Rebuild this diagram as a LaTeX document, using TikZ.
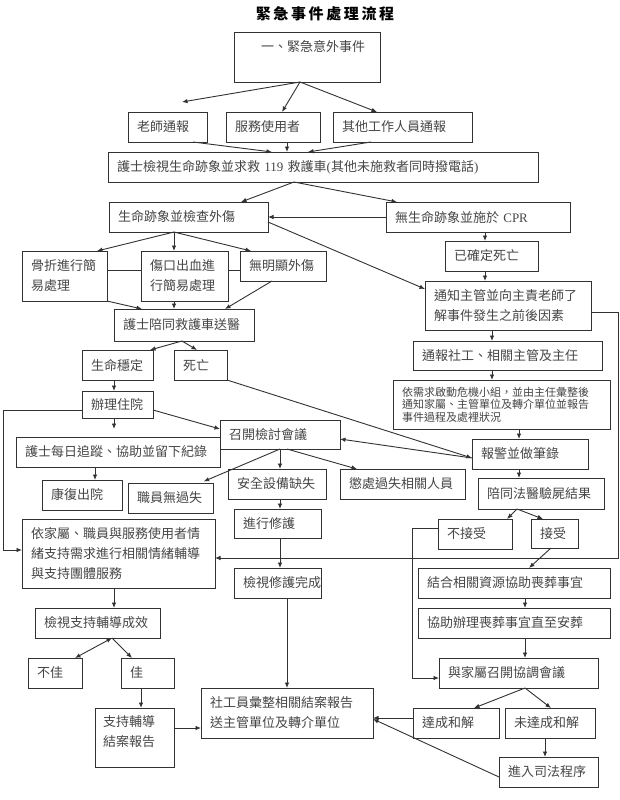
\documentclass[tikz,border=0pt]{standalone}
\usepackage{fontspec}
\usetikzlibrary{arrows.meta}
\newfontfamily\cjk{Noto Sans CJK TC}
\newfontfamily\lat{Liberation Serif}
\definecolor{linec}{RGB}{50,50,50}
\definecolor{textc}{RGB}{70,70,70}
% #1 extra options, #2 name, #3 x, #4 y, #5 width, #6 height, #7 text
\newcommand\mybox[7][]{%
  \pgfmathsetmacro\mytw{#5-18}%
  \node[bxs,text width=\mytw pt,minimum height=#6pt,#1] (#2) at (#3,#4) {#7};}
\begin{document}
\begin{tikzpicture}[x=1pt,y=-1pt,
  bxs/.style={draw=linec, line width=0.9pt, anchor=north west, inner xsep=9pt,
    inner ysep=0pt, outer sep=0pt, align=left, text=textc,
    font=\cjk\fontsize{13pt}{20pt}\selectfont},
  emptybox/.style={draw=linec, line width=0.9pt, anchor=north west, inner sep=0pt, outer sep=0pt},
  txt/.style={inner sep=0pt, text=textc, align=left, font=\cjk\fontsize{13pt}{20pt}\selectfont},
  ln/.style={draw=linec, line width=0.9pt},
  arr/.style={ln, -{Latex[length=5.5pt,width=4.5pt]}},
  arrr/.style={ln, {Latex[length=5.5pt,width=4.5pt]}-{Latex[length=5.5pt,width=4.5pt]}},
]
\fill[white] (0,0) rectangle (619,800);
\useasboundingbox (0,0) rectangle (619,800);

% title
\node[inner sep=0pt, text=black, font=\cjk\bfseries\fontsize{15pt}{15pt}\selectfont] (title) at (325,14)
  {緊\hspace{2.6pt}急\hspace{2.6pt}事\hspace{2.6pt}件\hspace{2.6pt}處\hspace{2.6pt}理\hspace{2.6pt}流\hspace{2.6pt}程};

% boxes
\node[emptybox, minimum width=146pt, minimum height=50pt] (ev) at (234,32) {};
\node[txt, anchor=west] (evt) at (261,47) {一、緊急意外事件};

\mybox{t1}{128}{112}{79}{30}{老師通報}
\mybox{t2}{226}{112}{94}{30}{服務使用者}
\mybox{t3}{333}{112}{139}{30}{其他工作人員通報}
\mybox{nurse}{108}{152}{430}{30}{護士檢視生命跡象並求救 {\lat 119} 救護車{\lat (}其他未施救者同時撥電話{\lat )}}
\mybox{vital}{109}{202}{159}{30}{生命跡象並檢查外傷}
\mybox{cpr}{386}{202}{184}{30}{無生命跡象並施於 {\lat CPR}}
\mybox{bone}{22}{251}{85}{50}{骨折進行簡\\易處理}
\mybox{wound}{141}{251}{87}{50}{傷口出血進\\行簡易處理}
\mybox{none}{240}{251}{86}{30}{無明顯外傷}
\mybox{amb}{114}{309}{140}{32}{護士陪同救護車送醫}
\mybox{dead1}{445}{241}{93}{30}{已確定死亡}
\mybox{notify}{425}{281}{166}{49}{通知主管並向主責老師了\\解事件發生之前後因素}
\mybox{report}{413}{341}{189}{29}{通報社工、相關主管及主任}
\mybox[font=\cjk\fontsize{11pt}{12.5pt}\selectfont]{crisis}{393}{380}{217}{49}{依需求啟動危機小組，並由主任彙整後\\通知家屬、主管單位及轉介單位並報告\\事件過程及處裡狀況}
\mybox{stable}{82}{350}{71}{30}{生命穩定}
\mybox{death}{174}{350}{53}{30}{死亡}
\mybox{hosp}{82}{391}{71}{27}{辦理住院}
\mybox{daily}{16}{437}{204}{30}{護士每日追蹤、協助並留下紀錄}
\mybox{review}{220}{420}{120}{29}{召開檢討會議}
\mybox{police}{472}{439}{116}{30}{報警並做筆錄}
\mybox{recover}{42}{480}{80}{30}{康復出院}
\mybox{nofault}{128}{483}{85}{30}{職員無過失}
\mybox{safety}{228}{469}{98}{30}{安全設備缺失}
\mybox{punish}{340}{469}{125}{30}{懲處過失相關人員}
\mybox{autopsy}{478}{478}{126}{31}{陪同法醫驗屍結果}
\mybox{support}{22}{519}{193}{69}{依家屬、職員與服務使用者情\\緒支持需求進行相關情緒輔導\\與支持團體服務}
\mybox{repair}{234}{509}{87}{29}{進行修護}
\mybox{reject}{438}{519}{74}{30}{不接受}
\mybox{accept}{531}{519}{47}{29}{接受}
\mybox{funeral}{418}{568}{192}{30}{結合相關資源協助喪葬事宜}
\mybox{repdone}{234}{568}{87}{30}{檢視修護完成}
\mybox{check}{35}{608}{125}{30}{檢視支持輔導成效}
\mybox{bury}{418}{608}{192}{30}{協助辦理喪葬事宜直至安葬}
\mybox{bad}{28}{658}{54}{30}{不佳}
\mybox{good}{121}{658}{53}{30}{佳}
\mybox{meet}{439}{658}{159}{30}{與家屬召開協調會議}
\node[emptybox, minimum width=79pt, minimum height=59pt] (close) at (95,708) {};
\node[txt, anchor=west] (closet) at (103,732) {支持輔導\\結案報告};
\mybox{summary}{201}{688}{172}{50}{社工員彙整相關結案報告\\送主管單位及轉介單位}
\mybox{settle}{413}{708}{86}{30}{達成和解}
\mybox{unsettle}{505}{708}{90}{30}{未達成和解}
\mybox{court}{499}{757}{99}{30}{進入司法程序}

% connectors
\coordinate (c1) at (182,102);
\draw[arr] (ev.south -| 300,0) -- (c1);
\draw[arr] (ev.south -| 300,0) -- (t2.north -| 282,0);
\draw[arr] (ev.south -| 300,0) -- (t3.north -| 377,0);

\draw[arr] (t1.south -| 193,0) -- (nurse.north -| 272,0);
\draw[arr] (t2.south -| 287,0) -- (nurse.north -| 287,0);
\draw[arr] (t3.south -| 371,0) -- (nurse.north -| 308,0);

\draw[arr] (nurse.south -| 294,0) -- (vital.north -| 241,0);
\draw[arr] (nurse.south -| 294,0) -- (cpr.north -| 397,0);
\draw[arr] (cpr.west) -- (vital.east);

\draw[arr] (vital.south -| 174,0) -- (bone.north -| 97,0);
\draw[arr] (vital.south -| 174,0) -- (wound.north -| 174,0);
\draw[arr] (vital.south -| 174,0) -- (none.north -| 251,0);
\draw[ln] (bone.east |- 0,270) -- (wound.west |- 0,270);
\draw[ln] (wound.east |- 0,270) -- (none.west |- 0,270);

\draw[arr] (bone.south east) -- (amb.north -| 142,0);
\draw[arr] (wound.south -| 174,0) -- (amb.north -| 174,0);
\draw[arr] (none.south -| 272,0) -- (amb.north -| 225,0);

\draw[arr] (vital.east |- 0,222) -- (notify.west |- 0,289);
\draw[arr] (cpr.south -| 485,0) -- (dead1.north -| 485,0);
\draw[arr] (dead1.south -| 485,0) -- (notify.north -| 485,0);
\draw[arr] (notify.east |- 0,312) -- (618,312) -- (618,558) -- (support.east |- 0,558);
\draw[arr] (notify.south -| 492,0) -- (report.north -| 492,0);
\draw[arr] (report.south -| 492,0) -- (crisis.north -| 492,0);
\draw[arr] (crisis.south -| 519,0) -- (police.north -| 519,0);
\draw[arr] (police.south -| 519,0) -- (autopsy.north -| 519,0);

\draw[arr] (amb.south -| 182,0) -- (stable.north -| 150,0);
\draw[arr] (amb.south -| 182,0) -- (death.north -| 197,0);
\draw[arr] (stable.south -| 114,0) -- (hosp.north -| 114,0);
\draw[arr] (hosp.west |- 0,410) -- (3,410) -- (3,550) -- (support.west |- 0,550);
\draw[arr, shorten >=8pt] (hosp.south -| 114,0) -- (daily.north -| 114,0);
\draw[arr] (daily.south -| 95,0) -- (recover.north -| 95,0);
\draw[arr] (hosp.east |- 0,410) -- (review.west |- 0,429);

\draw[arr] (death.south east) -- (police.west |- 0,458);
\draw[arr] (police.west |- 0,458) -- (review.east |- 0,439);

\draw[arr, shorten >=4pt] (review.south) -- (nofault.north -| 200,0);
\draw[arr] (review.south) -- (safety.north -| 280,0);
\draw[arr] (review.south -| 287,0) -- (punish.north -| 357,0);
\draw[arr] (safety.south -| 280,0) -- (repair.north -| 280,0);
\draw[arr] (repair.south -| 280,0) -- (repdone.north -| 280,0);
\draw[arr] (repdone.south -| 287,0) -- (summary.north -| 287,0);

\draw[arr] (autopsy.south -| 517,0) -- (reject.north -| 507,0);
\draw[arr] (autopsy.south -| 517,0) -- (accept.north -| 543,0);
\draw[arr] (reject.west |- 0,528) -- (412,528) -- (412,678) -- (meet.west |- 0,678);
\draw[arr] (accept.south -| 551,0) -- (funeral.north -| 529,0);
\draw[arr] (funeral.south -| 525,0) -- (bury.north -| 525,0);
\draw[arr] (bury.south -| 525,0) -- (meet.north -| 525,0);

\draw[arr] (support.south -| 114,0) -- (check.north -| 114,0);
\draw[arrr] (check.south -| 112,0) -- (bad.north -| 75,0);
\draw[arr] (check.south -| 112,0) -- (good.north -| 132,0);
\draw[arr] (good.south -| 141,0) -- (close.north -| 141,0);
\draw[arr] (close.east |- 0,728) -- (summary.west |- 0,728);

\draw[arr] (meet.south -| 525,0) -- (settle.north -| 474,0);
\draw[arr] (meet.south -| 525,0) -- (unsettle.north -| 551,0);
\draw[arr] (settle.west |- 0,718) -- (summary.east |- 0,718);
\draw[arr] (unsettle.south -| 545,0) -- (court.north -| 545,0);
\draw[arr] (court.west |- 0,777) -- (summary.east |- 0,719);
\end{tikzpicture}
\end{document}
